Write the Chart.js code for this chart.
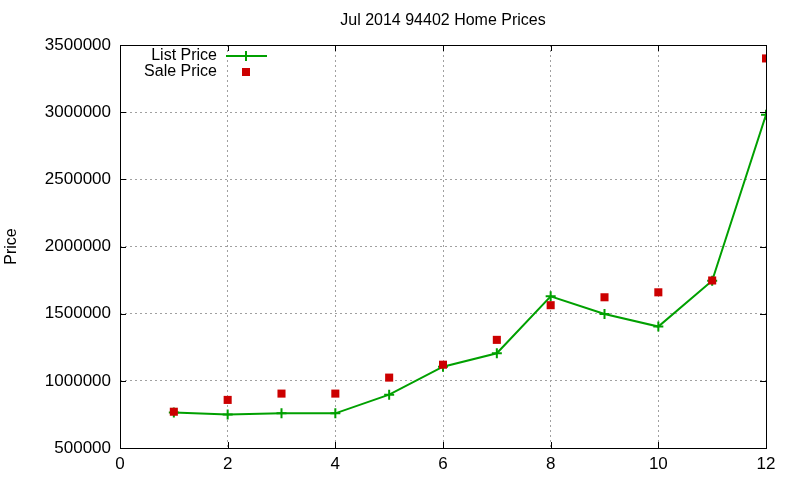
<!DOCTYPE html>
<html>
<head>
<meta charset="utf-8">
<script src="https://cdn.jsdelivr.net/npm/chart.js@4/dist/chart.umd.min.js"></script>
<style>
  html, body { margin: 0; padding: 0; background: #fff; }
  #wrap { width: 800px; height: 480px; }
</style>
</head>
<body>
<div id="wrap"><canvas id="chart" width="800" height="480"></canvas></div>
<script>
const chartTitle = 'Jul 2014 94402 Home Prices';
const months = [1, 2, 3, 4, 5, 6, 7, 8, 9, 10, 11, 12];
const listPrice = [765000, 750000, 758000, 758000, 897000, 1105000, 1205000, 1629000, 1497000, 1404000, 1745000, 2980000];
const salePrice = [770000, 858000, 905000, 905000, 1024000, 1120000, 1305000, 1563000, 1622000, 1659000, 1747000, 3400000];
const xTicks = [0, 2, 4, 6, 8, 10, 12];
const yTicks = [500000, 1000000, 1500000, 2000000, 2500000, 3000000, 3500000];

const GREEN = '#00a000';
const RED = '#cc0000';
const FONT = '"Liberation Sans", Arial, sans-serif';

// gnuplot-ish frame, mirrored inward ticks, title and key
const gnuplotFrame = {
  id: 'gnuplotFrame',
  afterDraw(chart) {
    const { ctx, chartArea: a, scales } = chart;
    ctx.save();
    ctx.strokeStyle = '#000';
    ctx.lineWidth = 1;
    ctx.strokeRect(a.left + 0.5, a.top + 0.5, a.right - a.left, a.bottom - a.top);
    ctx.beginPath();
    xTicks.forEach(v => {
      const x = Math.round(scales.x.getPixelForValue(v)) + 0.5;
      ctx.moveTo(x, a.bottom); ctx.lineTo(x, a.bottom - 6);
      ctx.moveTo(x, a.top); ctx.lineTo(x, a.top + 6);
    });
    yTicks.forEach(v => {
      const y = Math.round(scales.y.getPixelForValue(v)) + 0.5;
      ctx.moveTo(a.left, y); ctx.lineTo(a.left + 6, y);
      ctx.moveTo(a.right, y); ctx.lineTo(a.right - 6, y);
    });
    ctx.stroke();

    ctx.fillStyle = '#000';
    ctx.font = '16px ' + FONT;
    ctx.textAlign = 'center';
    ctx.textBaseline = 'middle';
    ctx.fillText(chartTitle, (a.left + a.right) / 2, 21);

    // key
    ctx.font = '16px ' + FONT;
    ctx.textAlign = 'right';
    ctx.fillText('List Price', 217, 56);
    ctx.fillText('Sale Price', 217, 72);
    ctx.strokeStyle = GREEN;
    ctx.lineWidth = 2;
    ctx.beginPath();
    ctx.moveTo(226, 56); ctx.lineTo(267, 56);
    ctx.moveTo(246, 51); ctx.lineTo(246, 61);
    ctx.stroke();
    ctx.fillStyle = RED;
    ctx.fillRect(242, 68, 8, 8);
    ctx.restore();
  }
};

const gridColor = ctx => (ctx.index === 0 || ctx.index === ctx.chart.scales[ctx.scale.id].ticks.length - 1) ? 'rgba(0,0,0,0)' : '#a0a0a0';

new Chart(document.getElementById('chart'), {
  type: 'scatter',
  data: {
    datasets: [
      {
        label: 'List Price',
        data: months.map((m, i) => ({ x: m, y: listPrice[i] })),
        showLine: true,
        borderColor: GREEN,
        backgroundColor: GREEN,
        borderWidth: 2,
        pointStyle: 'cross',
        pointRadius: 5,
        pointBorderWidth: 2,
        pointBorderColor: GREEN,
        order: 2
      },
      {
        label: 'Sale Price',
        data: months.map((m, i) => ({ x: m, y: salePrice[i] })),
        showLine: false,
        backgroundColor: RED,
        borderColor: RED,
        borderWidth: 0,
        pointStyle: 'rect',
        pointRadius: 5.7,
        pointBorderWidth: 0,
        order: 1
      }
    ]
  },
  options: {
    responsive: false,
    animation: false,
    layout: { padding: { top: 45, right: 34, bottom: 0, left: 0 } },
    plugins: { legend: { display: false }, tooltip: { enabled: false }, title: { display: false } },
    scales: {
      x: {
        type: 'linear',
        min: 0, max: 12,
        afterBuildTicks: s => { s.ticks = xTicks.map(v => ({ value: v })); },
        afterFit: s => { s.height = 32; },
        border: { display: false, dash: [2, 3] },
        grid: { color: gridColor, drawTicks: false, lineWidth: 1 },
        ticks: { color: '#000', padding: 6, font: { family: FONT, size: 17 }, maxRotation: 0 }
      },
      y: {
        type: 'linear',
        min: 500000, max: 3500000,
        afterBuildTicks: s => { s.ticks = yTicks.map(v => ({ value: v })); },
        afterFit: s => { s.width = 120; },
        border: { display: false, dash: [2, 3] },
        grid: { color: gridColor, drawTicks: false, lineWidth: 1 },
        title: { display: true, text: 'Price', color: '#000', font: { family: FONT, size: 16 }, padding: { top: 2, bottom: 0 } },
        ticks: { color: '#000', padding: 9, font: { family: FONT, size: 17 }, callback: v => String(v) }
      }
    }
  },
  plugins: [gnuplotFrame]
});
</script>
</body>
</html>
